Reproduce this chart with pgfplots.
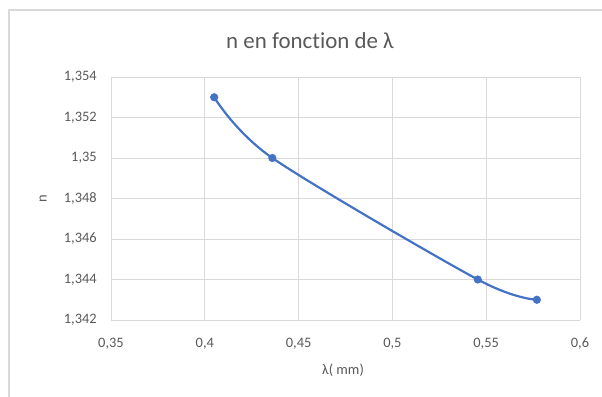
\documentclass[border=0pt]{standalone}
\usepackage{fontspec}
\setmainfont{Carlito}[Ligatures=CommonOff]
\usepackage{pgfplots}
\pgfplotsset{compat=1.18}
\definecolor{gridgray}{HTML}{D9D9D9}
\definecolor{txtgray}{HTML}{595959}
\definecolor{exblue}{HTML}{4472C4}
\begin{document}
\begin{tikzpicture}
\path[use as bounding box] (0,0) rectangle (602bp,-397bp);
\draw[gridgray, line width=1.2bp] (9bp,-397bp) -- (9bp,-10bp) -- (602bp,-10bp);
\begin{axis}[
  at={(111bp,-320bp)}, anchor=south west,
  scale only axis, width=469bp, height=243bp,
  xmin=0.35, xmax=0.6, ymin=1.342, ymax=1.354,
  xtick={0.35,0.4,0.45,0.5,0.55,0.6},
  ytick={1.342,1.344,1.346,1.348,1.35,1.352,1.354},
  scaled ticks=false,
  /pgf/number format/.cd, use comma, 1000 sep={}, precision=3, assume math mode=true,
  /pgfplots/.cd,
  grid=major,
  major grid style={gridgray, line width=0.9bp},
  axis line style={draw=none},
  major tick length=0pt,
  tick label style={font=\fontsize{14.5}{16}\selectfont, text=txtgray, inner sep=0pt},
  yticklabel style={anchor=east, xshift=-14bp},
  xticklabel style={anchor=base, yshift=-27bp},
  clip=false,
]
\addplot[exblue, line width=2.2bp, smooth, tension=0.5, mark=*, mark size=3.8bp, mark options={fill=exblue, draw=exblue, line width=0.5bp}]
  coordinates {(0.405,1.353) (0.436,1.350) (0.5455,1.344) (0.577,1.343)};
\end{axis}
\node[text=txtgray, font=\fontsize{23}{26}\selectfont, anchor=base] at (310bp,-48bp) {n en fonction de λ};
\node[text=txtgray, font=\fontsize{14.5}{16}\selectfont, rotate=90] at (43bp,-199bp) {n};
\node[text=txtgray, font=\fontsize{14.5}{16}\selectfont] at (343bp,-370bp) {λ( mm)};
\end{tikzpicture}
\end{document}
